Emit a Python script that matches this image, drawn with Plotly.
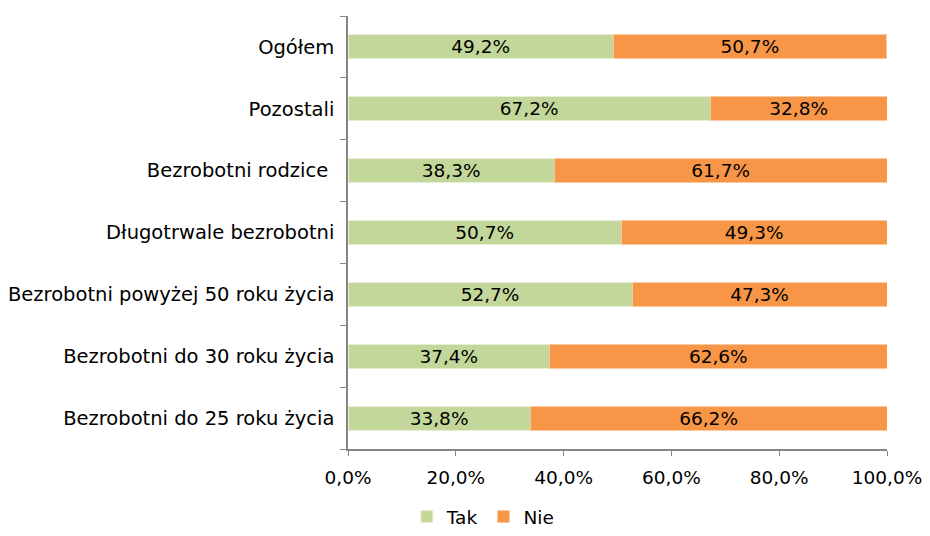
import plotly.graph_objects as go

categories = [
    "Bezrobotni do 25 roku życia",
    "Bezrobotni do 30 roku życia",
    "Bezrobotni powyżej 50 roku życia",
    "Długotrwale bezrobotni",
    "Bezrobotni rodzice\u00a0",
    "Pozostali",
    "Ogółem",
]
tak = [33.8, 37.4, 52.7, 50.7, 38.3, 67.2, 49.2]
nie = [66.2, 62.6, 47.3, 49.3, 61.7, 32.8, 50.7]
x_ticks = [0, 20, 40, 60, 80, 100]
x_ticktext = ["0,0%", "20,0%", "40,0%", "60,0%", "80,0%", "100,0%"]

FONT = "DejaVu Sans"
FS = 18.5
fig = go.Figure()
fig.add_trace(go.Bar(
    y=categories, x=tak, name="Tak", orientation="h",
    marker=dict(color="#C4D79B", line=dict(color="#E6EED3", width=1)),
    texttemplate="%{x:.1f}%", textposition="inside", insidetextanchor="middle",
    constraintext="none",
    textfont=dict(color="black", size=FS, family=FONT),
))
fig.add_trace(go.Bar(
    y=categories, x=nie, name="Nie", orientation="h",
    marker=dict(color="#F79646", line=dict(color="#FAC9A0", width=1)),
    texttemplate="%{x:.1f}%", textposition="inside", insidetextanchor="middle",
    constraintext="none",
    textfont=dict(color="black", size=FS, family=FONT),
))
fig.update_layout(
    barmode="stack",
    bargap=0.61,
    width=922, height=528,
    margin=dict(l=340, r=43, t=8, b=87, autoexpand=False),
    plot_bgcolor="white", paper_bgcolor="white",
    separators=",.",
    font=dict(family=FONT, size=FS, color="black"),
    showlegend=True,
    legend=dict(orientation="h", xref="container", x=0.515, xanchor="center",
                yref="container", y=0.0, yanchor="bottom",
                font=dict(size=FS, family=FONT), traceorder="normal",
                itemwidth=30, tracegroupgap=0),
    xaxis=dict(range=[0, 100], tickvals=x_ticks, ticktext=x_ticktext,
               showgrid=False, zeroline=False, showline=True, linecolor="#868686",
               linewidth=1.5, ticks="outside", ticklen=5, tickcolor="#868686",
               ticklabelstandoff=6,
               tickfont=dict(size=FS, family=FONT, color="black")),
    yaxis=dict(showgrid=False, showline=True, linecolor="#868686", linewidth=1.5,
               ticks="outside", ticklen=6, tickcolor="#868686", tickson="boundaries",
               ticklabelstandoff=8,
               tickfont=dict(size=19.5, family=FONT, color="black")),
)
fig.write_html("out.html")
